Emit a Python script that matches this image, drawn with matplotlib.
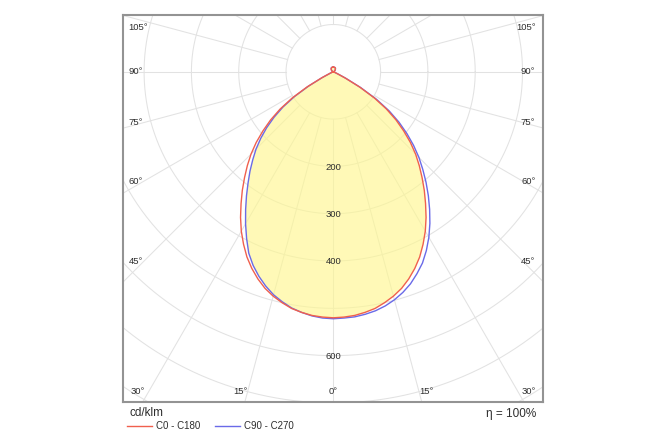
import numpy as np
import matplotlib
matplotlib.use('Agg')
import matplotlib.pyplot as plt

plt.rcParams['font.family'] = ['Liberation Sans', 'DejaVu Sans']

# ---- data (cd/klm vs gamma angle from nadir, degrees) ----
gamma = [0, 2.5, 5, 7.5, 10, 12.5, 15, 17.5, 20, 22.5, 25, 27.5, 30, 32.5, 35, 37.5, 40,
         42.5, 45, 47.5, 50, 52.5, 55, 57.5, 60, 62.5, 65, 67.5, 70,
         80, 90, 105, 120, 135, 150, 165, 180]
c0_c180 = [520, 519, 517, 513, 508, 500, 491, 480, 466, 450, 432, 411, 389, 365, 340, 316, 292,
           269, 246, 221, 194, 167, 137, 103, 64, 28, 9, 4, 2,
           1, 0, 1, 3, 6, 9, 10, 10]
c90 = [522, 521, 520, 517, 513, 507, 499, 489, 477, 462, 446, 426, 404, 380, 355, 330, 305,
       280, 256, 230, 203, 175, 144, 108, 67, 30, 10, 4, 2,
       1, 0, 1, 3, 6, 9, 10, 10]
c270 = [522, 521, 518, 513, 507, 498, 488, 475, 460, 443, 423, 397, 371, 345, 320, 296, 274,
        252, 231, 208, 184, 158, 130, 97, 60, 26, 8, 4, 2,
        1, 0, 1, 3, 6, 9, 10, 10]

circle_values = [100, 200, 300, 400, 500, 600, 700, 800, 900, 1000]
circle_labels = [200, 300, 400, 600]
side_angles = [105, 90, 75, 60, 45]
bottom_angles = [30, 15, 0, 15, 30]
bottom_signs = [-1, -1, 0, 1, 1]

legend_names = ['C0 - C180', 'C90 - C270']
unit_label = 'cd/klm'
eta_label = 'η = 100%'

RED = '#f0604d'
BLUE = '#6a6ae8'
GRID = '#e2e2e2'
TXT = '#2e2e2e'

W, H = 666, 444
fig = plt.figure(figsize=(W / 100, H / 100), dpi=100)
ax = fig.add_axes([123 / W, 1 - 402 / H, 420 / W, 387.3 / H])
ax.set_xlim(-444.6, 443.3)
ax.set_ylim(-698, 120.7)
ax.set_xticks([])
ax.set_yticks([])
for s in ax.spines.values():
    s.set_color('#939393')
    s.set_linewidth(1.5)

# grid circles
t = np.linspace(0, 2 * np.pi, 721)
for r in circle_values:
    ax.plot(r * np.cos(t), r * np.sin(t), color=GRID, lw=0.75, zorder=1)
# radial lines every 15 deg, from r=100 outward
for a in np.arange(0, 360, 15):
    ar = np.radians(a)
    ax.plot([100 * np.sin(ar), 1200 * np.sin(ar)], [-100 * np.cos(ar), -1200 * np.cos(ar)],
            color=GRID, lw=0.75, zorder=1)

g = np.radians(gamma)


def loop(right, left):
    right = np.asarray(right, float)
    left = np.asarray(left, float)
    xr, yr = right * np.sin(g), -right * np.cos(g)
    xl, yl = -left * np.sin(g), -left * np.cos(g)
    return np.concatenate([xl[::-1], xr[1:]]), np.concatenate([yl[::-1], yr[1:]])


fx, fy = loop(np.minimum(c0_c180, c90), np.minimum(c0_c180, c270))
ax.fill(fx, fy, color=(1.0, 0.97, 0.56), alpha=0.64, lw=0, zorder=2)

rx, ry = loop(c0_c180, c0_c180)
bx, by = loop(c90, c270)
l1, = ax.plot(rx, ry, color=RED, lw=1.0, zorder=4, label=legend_names[0])
l2, = ax.plot(bx, by, color=BLUE, lw=1.0, zorder=3, label=legend_names[1])

# radial value labels
for v in circle_labels:
    ax.text(0, -(v + 2), str(v), ha='center', va='center', fontsize=6.8, color=TXT, zorder=5)

# side angle labels
ylim_top = ax.get_ylim()[1]
d = 402
for a in side_angles:
    y = -d / np.tan(np.radians(a)) if a != 90 else 0.0
    y = min(y, ylim_top - 28)
    ax.text(-444.6 + 12, y, f'{a}°', ha='left', va='center', fontsize=6.8, color=TXT, zorder=5)
    ax.text(443.3 - 16, y, f'{a}°', ha='right', va='center', fontsize=6.8, color=TXT, zorder=5)

# bottom angle labels
for a, sgn in zip(bottom_angles, bottom_signs):
    x = sgn * (698 * np.tan(np.radians(a)) + 10)
    ax.text(x, -676, f'{a}°', ha='center', va='center', fontsize=6.8, color=TXT, zorder=5)

fig.text(129 / W, 1 - 413 / H, unit_label, ha='left', va='center', fontsize=8.5, color=TXT)
fig.text(536 / W, 1 - 414 / H, eta_label, ha='right', va='center', fontsize=8.5, color=TXT)

leg = fig.legend(handles=[l1, l2], loc='center left', bbox_to_anchor=(127 / W, 1 - 426 / H),
                 bbox_transform=fig.transFigure, ncol=2, frameon=False, fontsize=7,
                 handlelength=2.6, handletextpad=0.4, columnspacing=1.5, borderpad=0,
                 borderaxespad=0)
for txt in leg.get_texts():
    txt.set_color(TXT)

fig.savefig('out.png', dpi=100, facecolor='white')
